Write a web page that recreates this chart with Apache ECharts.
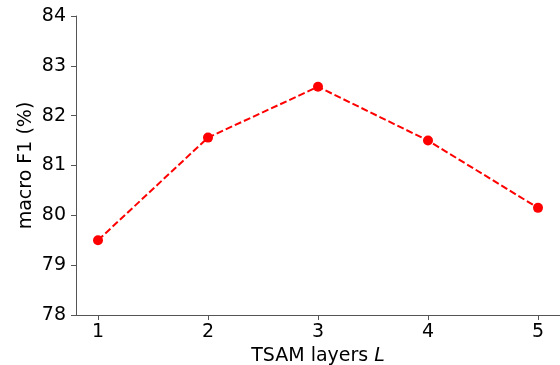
<!DOCTYPE html>
<html>
<head>
<meta charset="utf-8">
<script src="https://cdn.jsdelivr.net/npm/echarts@6/dist/echarts.min.js"></script>
<style>
  html, body { margin: 0; padding: 0; background: #fff; }
  #chart { width: 560px; height: 365px; }
</style>
</head>
<body>
<div id="chart"></div>
<script>
const layers = [1, 2, 3, 4, 5];
const macroF1 = [79.5, 81.56, 82.58, 81.5, 80.15];
const yTicks = [78, 79, 80, 81, 82, 83, 84];

const font = "DejaVu Sans";
const chart = echarts.init(document.getElementById("chart"));

chart.setOption({
  animation: false,
  grid: { left: 76, right: 0, top: 16, bottom: 50, outerBoundsMode: "none" },
  xAxis: {
    type: "value",
    min: 0.8,
    max: 5.2,
    name: "{n|TSAM layers }{i|L}",
    nameLocation: "middle",
    nameGap: 32,
    nameMoveOverlap: false,
    nameTextStyle: {
      rich: {
        n: { fontFamily: font, fontSize: 19, color: "#000" },
        i: { fontFamily: font, fontSize: 19, color: "#000", fontStyle: "italic" },
      },
    },
    splitLine: { show: false },
    axisLine: { lineStyle: { color: "#555", width: 1 } },
    axisTick: { customValues: layers, length: 5, lineStyle: { color: "#555" } },
    axisLabel: {
      customValues: layers,
      fontFamily: font,
      fontSize: 19,
      color: "#000",
      margin: 8,
    },
  },
  yAxis: {
    type: "value",
    min: 78,
    max: 84,
    interval: 1,
    name: "macro F1 (%)",
    nameLocation: "middle",
    nameGap: 40,
    nameMoveOverlap: false,
    nameTextStyle: { fontFamily: font, fontSize: 19, color: "#000" },
    splitLine: { show: false },
    axisLine: { show: true, lineStyle: { color: "#555", width: 1 } },
    axisTick: { show: true, length: 5, lineStyle: { color: "#555" } },
    axisLabel: {
      fontFamily: font,
      fontSize: 19,
      color: "#000",
      margin: 10,
      formatter: (v) => (yTicks.includes(v) ? String(v) : ""),
    },
  },
  series: [
    {
      type: "line",
      data: layers.map((x, i) => [x, macroF1[i]]),
      symbol: "circle",
      symbolSize: 10,
      itemStyle: { color: "#ff0000" },
      lineStyle: { color: "#ff0000", width: 2, type: [7, 3] },
    },
  ],
});
</script>
</body>
</html>
